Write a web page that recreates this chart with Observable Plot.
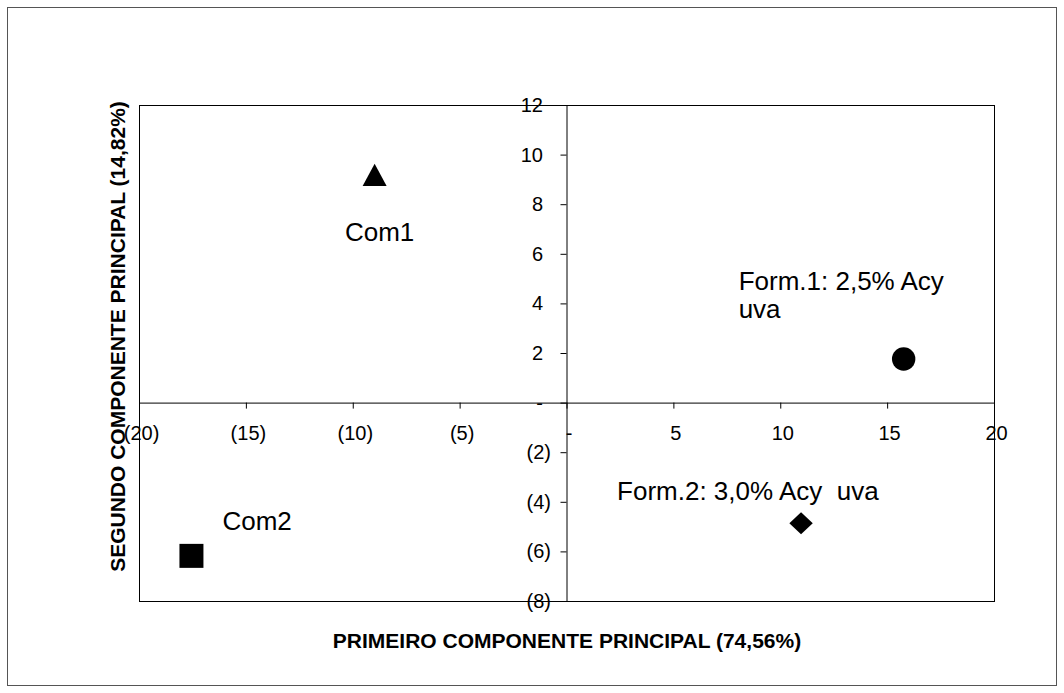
<!DOCTYPE html>
<html><head><meta charset="utf-8">
<script src="https://cdn.jsdelivr.net/npm/d3@7"></script>
<script src="https://cdn.jsdelivr.net/npm/@observablehq/plot@0.6"></script>
<style>
body{margin:0;background:#fff;}
#wrap{position:relative;width:1064px;height:693px;}
#border{position:absolute;left:7px;top:7px;width:1048px;height:677px;border:1px solid #555;pointer-events:none;}
svg text{white-space:pre;}
</style></head><body>
<div id="wrap"><div id="border"></div></div>
<script>
const names = ["Com1", "Form.1: 2,5% Acy\nuva", "Com2", "Form.2: 3,0% Acy  uva"];
const pc1 = [-9.0, 15.75, -17.57, 10.95];
const pc2 = [9.2, 1.78, -6.16, -4.84];
const shapes = ["triangle", "circle", "square", "diamond"];
const xTicks = [-20, -15, -10, -5, 0, 5, 10, 15, 20];
const xTickLabels = ["(20)", "(15)", "(10)", "(5)", "-", "5", "10", "15", "20"];
const yTicks = [12, 10, 8, 6, 4, 2, 0, -2, -4, -6, -8];
const yTickLabels = ["12", "10", "8", "6", "4", "2", "-", "(2)", "(4)", "(6)", "(8)"];
const xTitle = "PRIMEIRO COMPONENTE PRINCIPAL (74,56%)";
const yTitle = "SEGUNDO COMPONENTE PRINCIPAL (14,82%)";

const pts = names.map((n, i) => ({name: n, x: pc1[i], y: pc2[i], shape: shapes[i]}));
const xT = xTicks.map((v, i) => ({v, label: xTickLabels[i]}));
const yT = yTicks.map((v, i) => ({v, label: yTickLabels[i]}));

const rad = s => Math.sqrt(s / Math.PI);
const sym = {
  triangle: {draw(c, s) { const r = rad(s); c.moveTo(0, -0.93 * r); c.lineTo(r, 0.93 * r); c.lineTo(-r, 0.93 * r); c.closePath(); }},
  circle: {draw(c, s) { const r = rad(s); c.moveTo(r, 0); c.arc(0, 0, r, 0, 2 * Math.PI); c.closePath(); }},
  square: {draw(c, s) { const r = rad(s); c.moveTo(-r, -r); c.lineTo(r, -r); c.lineTo(r, r); c.lineTo(-r, r); c.closePath(); }},
  diamond: {draw(c, s) { const r = rad(s); c.moveTo(0, -0.94 * r); c.lineTo(r, 0); c.lineTo(0, 0.94 * r); c.lineTo(-r, 0); c.closePath(); }}
};
const sizes = {triangle: 12, circle: 11.7, square: 12, diamond: 11.7};

const labelOpts = {
  "Com1": {dx: 5, dy: 57, textAnchor: "middle"},
  "Com2": {dx: 31, dy: -35, textAnchor: "start"},
  "Form.1: 2,5% Acy\nuva": {dx: -165, dy: -64, textAnchor: "start"},
  "Form.2: 3,0% Acy  uva": {dx: -184, dy: -32, textAnchor: "start"}
};

const marks = [
  Plot.frame({stroke: "#000"}),
  Plot.ruleY([0], {stroke: "#000"}),
  Plot.ruleX([0], {stroke: "#000"}),
  Plot.ruleX(xTicks, {x: d => d, y1: 0, y2: 0, insetBottom: -6, stroke: "#000"}),
  Plot.ruleY(yTicks, {y: d => d, x1: 0, x2: 0, insetLeft: -6, stroke: "#000"}),
  Plot.text(xT, {x: "v", y: 0, text: "label", dy: 30, dx: 2, fontSize: 20, fill: "#000"}),
  Plot.text(yT.filter(d => d.v >= 0), {x: 0, y: "v", text: "label", textAnchor: "end", dx: -24, fontSize: 20, fill: "#000"}),
  Plot.text(yT.filter(d => d.v < 0), {x: 0, y: "v", text: "label", textAnchor: "end", dx: -16, fontSize: 20, fill: "#000"}),
  Plot.text([xTitle], {text: d => d, frameAnchor: "bottom", lineAnchor: "middle", textAnchor: "middle", dy: 40, fontSize: 21, fontWeight: "bold", fill: "#000"}),
  Plot.text([yTitle], {text: d => d, frameAnchor: "left", lineAnchor: "middle", textAnchor: "middle", rotate: -90, dx: -21, dy: -17, fontSize: 21, fontWeight: "bold", fill: "#000"})
];
for (const s of shapes) {
  marks.push(Plot.dot(pts.filter(d => d.shape === s), {x: "x", y: "y", symbol: sym[s], r: sizes[s], fill: "#000", stroke: "none"}));
}
for (const p of pts) {
  const o = labelOpts[p.name];
  marks.push(Plot.text([p], {x: "x", y: "y", text: "name", dx: o.dx, dy: o.dy, textAnchor: o.textAnchor, lineAnchor: "middle", lineHeight: 1.1, fontSize: 26, fill: "#000"}));
}

const chart = Plot.plot({
  width: 1064,
  height: 693,
  marginLeft: 139,
  marginRight: 70,
  marginTop: 105,
  marginBottom: 92,
  x: {domain: [-20, 20], axis: null},
  y: {domain: [-8, 12], axis: null},
  style: {fontFamily: "'Liberation Sans', Arial, sans-serif", background: "#fff", color: "#000", overflow: "visible"},
  marks
});
document.getElementById("wrap").prepend(chart);
</script>
</body></html>
